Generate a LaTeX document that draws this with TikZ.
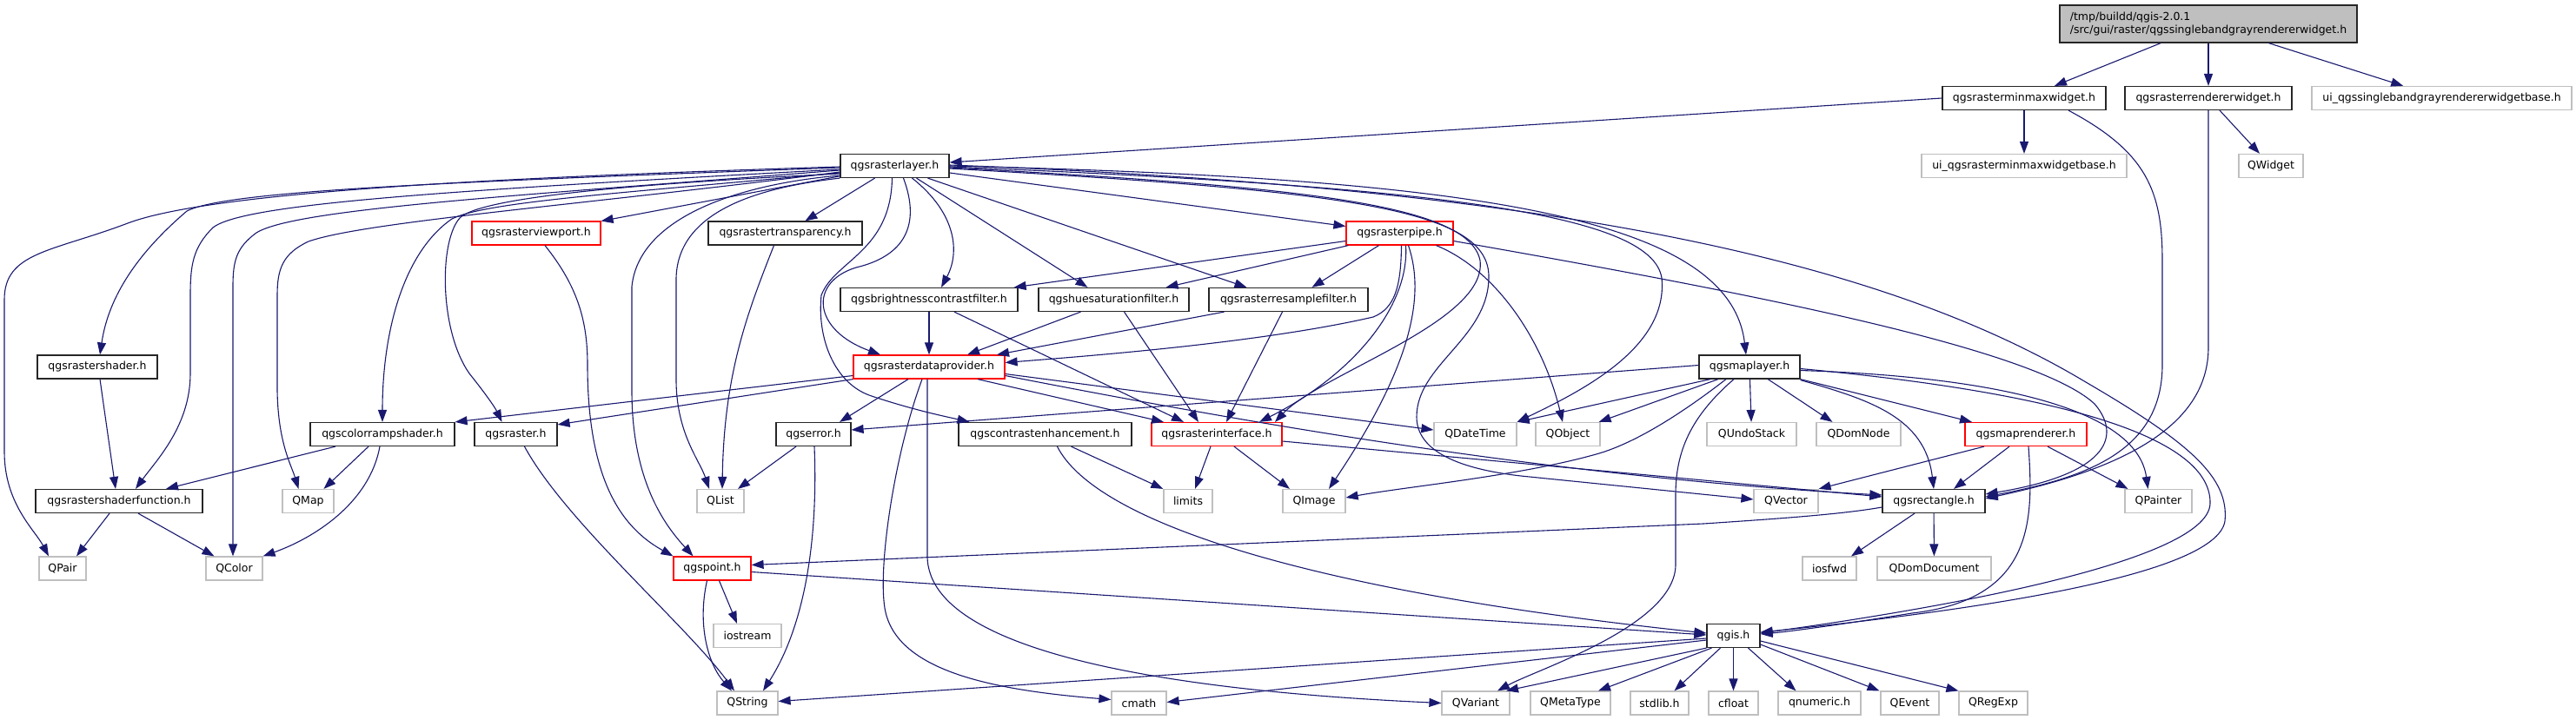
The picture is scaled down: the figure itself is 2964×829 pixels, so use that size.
\documentclass[tikz,border=0pt]{standalone}
\usepackage{fontspec}
\newfontfamily\dvs{DejaVu Sans}
\usetikzlibrary{arrows.meta}
\definecolor{eb}{RGB}{25,25,112}
\tikzset{
 base/.style={rectangle, line width=1.2pt, fill=white, minimum height=27pt, inner sep=0pt, font=\dvs\fontsize{12.5}{15}\selectfont, text=black},
 nb/.style={base, draw=black!85},
 ng/.style={base, draw=black!25},
 nr/.style={base, draw=red},
 nt/.style={base, draw=black!85, fill=black!25, minimum height=43pt, align=left},
 edg/.style={draw=eb, line width=1.1pt, -{Triangle[length=14pt,width=10pt]}},
}
\begin{document}
\begin{tikzpicture}[x=1pt,y=-1pt]
\fill[white] (0,0) rectangle (2964,829);
\useasboundingbox (0,0) rectangle (2964,829);
% nodes
\node[nt, minimum width=342pt] (top) at (2541,27.5) {/tmp/buildd/qgis-2.0.1\\/src/gui/raster/qgssinglebandgrayrendererwidget.h};
\node[nb, minimum width=188pt] (minmax) at (2329,113) {qgsrasterminmaxwidget.h};
\node[nb, minimum width=192pt] (rendw) at (2541,113) {qgsrasterrendererwidget.h};
\node[ng, minimum width=299pt] (uisb) at (2809.5,113) {ui\_qgssinglebandgrayrendererwidgetbase.h};
\node[ng, minimum width=236pt] (uimm) at (2329,191) {ui\_qgsrasterminmaxwidgetbase.h};
\node[ng, minimum width=74pt] (qwidget) at (2613,191) {QWidget};
\node[nb, minimum width=125pt] (layer) at (1029.5,191) {qgsrasterlayer.h};
\node[nr, minimum width=148pt] (viewport) at (617,268.5) {qgsrasterviewport.h};
\node[nb, minimum width=177pt] (transp) at (903.5,268.5) {qgsrastertransparency.h};
\node[nr, minimum width=123pt] (pipe) at (1610.5,268.5) {qgsrasterpipe.h};
\node[nb, minimum width=204pt] (brightness) at (1069,345) {qgsbrightnesscontrastfilter.h};
\node[nb, minimum width=173pt] (huesat) at (1281.5,345) {qgshuesaturationfilter.h};
\node[nb, minimum width=183pt] (resample) at (1482.5,345) {qgsrasterresamplefilter.h};
\node[nb, minimum width=138pt] (shader) at (112,422.5) {qgsrastershader.h};
\node[nr, minimum width=174pt] (dataprov) at (1069,422.5) {qgsrasterdataprovider.h};
\node[nb, minimum width=116pt] (maplayer) at (2013,422.5) {qgsmaplayer.h};
\node[nb, minimum width=166pt] (colorramp) at (440,500) {qgscolorrampshader.h};
\node[nb, minimum width=95pt] (raster) at (593.5,500) {qgsraster.h};
\node[nb, minimum width=86pt] (error) at (936,500) {qgserror.h};
\node[nb, minimum width=199pt] (contrast) at (1202.5,500) {qgscontrastenhancement.h};
\node[nr, minimum width=150pt] (interface) at (1400,500) {qgsrasterinterface.h};
\node[ng, minimum width=95pt] (qdatetime) at (1697.5,500) {QDateTime};
\node[ng, minimum width=74pt] (qobject) at (1804,500) {QObject};
\node[ng, minimum width=103pt] (qundostack) at (2015.5,500) {QUndoStack};
\node[ng, minimum width=97pt] (qdomnode) at (2138.5,500) {QDomNode};
\node[nr, minimum width=140pt] (maprenderer) at (2331,500) {qgsmaprenderer.h};
\node[nb, minimum width=192pt] (shaderfunc) at (137,577) {qgsrastershaderfunction.h};
\node[ng, minimum width=59pt] (qmap) at (354.5,577) {QMap};
\node[ng, minimum width=54pt] (qlist) at (829,577) {QList};
\node[ng, minimum width=56pt] (limits) at (1367,577) {limits};
\node[ng, minimum width=72pt] (qimage) at (1512,577) {QImage};
\node[ng, minimum width=74pt] (qvector) at (2055,577) {QVector};
\node[nb, minimum width=118pt] (rect) at (2225,577) {qgsrectangle.h};
\node[ng, minimum width=77pt] (qpainter) at (2483.5,577) {QPainter};
\node[ng, minimum width=54pt] (qpair) at (72,654.5) {QPair};
\node[ng, minimum width=65pt] (qcolor) at (269.5,654.5) {QColor};
\node[nr, minimum width=89pt] (point) at (819.5,654.5) {qgspoint.h};
\node[ng, minimum width=62pt] (iosfwd) at (2105,654.5) {iosfwd};
\node[ng, minimum width=131pt] (qdomdoc) at (2225.5,654.5) {QDomDocument};
\node[ng, minimum width=78pt] (iostream) at (860,732) {iostream};
\node[nb, minimum width=61pt] (qgis) at (1994.5,732) {qgis.h};
\node[ng, minimum width=70pt] (qstring) at (860,809.5) {QString};
\node[ng, minimum width=63pt] (cmath) at (1310.5,809.5) {cmath};
\node[ng, minimum width=78pt] (qvariant) at (1698,809.5) {QVariant};
\node[ng, minimum width=92pt] (qmetatype) at (1807,809.5) {QMetaType};
\node[ng, minimum width=67pt] (stdlib) at (1909.5,809.5) {stdlib.h};
\node[ng, minimum width=57pt] (cfloat) at (1994.5,809.5) {cfloat};
\node[ng, minimum width=95pt] (qnumeric) at (2093.5,809.5) {qnumeric.h};
\node[ng, minimum width=67pt] (qevent) at (2197.5,809.5) {QEvent};
\node[ng, minimum width=79pt] (qregexp) at (2293.5,809.5) {QRegExp};
% edges: top
\draw[edg] (top) -- (minmax);
\draw[edg] (top) -- (rendw);
\draw[edg] (top) -- (uisb);
\draw[edg] (minmax.west) -- ([yshift=4pt]layer.east);
\draw[edg] (minmax) -- (uimm);
\draw[edg] ([xshift=51pt]minmax.south) .. controls (2470,175) and (2488,220) .. (2488,300) -- (2488,420) .. controls (2488,520) and (2400,550) .. ([yshift=5pt]rect.east);
\draw[edg] (rendw) -- (qwidget);
\draw[edg] (rendw.south) -- (2541,400) .. controls (2541,500) and (2420,545) .. ([yshift=3pt]rect.east);
% layer, left side
\draw[edg] ([yshift=-1pt]layer.west) .. controls (550,205) and (240,222) .. (147,257) .. controls (60,290) and (5,290) .. (5,345) -- (5,520) .. controls (5,580) and (40,610) .. ([xshift=-16pt]qpair.north);
\draw[edg] ([yshift=-2pt]layer.west) .. controls (500,210) and (260,220) .. (215,243) .. controls (160,290) and (125,340) .. ([xshift=3pt]shader.north);
\draw[edg] ([yshift=-4pt]layer.west) .. controls (500,220) and (280,235) .. (245,262) .. controls (222,285) and (219,305) .. (219,340) -- (219,430) .. controls (219,490) and (180,530) .. ([xshift=19pt]shaderfunc.north);
\draw[edg] ([yshift=-5pt]layer.west) .. controls (600,225) and (340,240) .. (295,268) .. controls (272,285) and (268,300) .. (268,330) -- ([xshift=-1.5pt]qcolor.north);
\draw[edg] ([yshift=-7pt]layer.west) .. controls (680,235) and (420,255) .. (355,278) .. controls (325,292) and (319,310) .. (319,340) -- (319,450) .. controls (320,510) and (335,535) .. ([xshift=-11pt]qmap.north);
\draw[edg] ([yshift=-8pt]layer.west) .. controls (720,222) and (560,232) .. (520,252) .. controls (465,290) and (440,380) .. (colorramp.north);
\draw[edg] ([yshift=-9pt]layer.west) .. controls (760,210) and (560,225) .. (530,250) .. controls (505,275) and (505,380) .. (540,430) .. controls (560,455) and (570,470) .. ([xshift=-16pt]raster.north);
\draw[edg] (layer) -- (viewport);
\draw[edg] (layer) -- (transp);
\draw[edg] ([yshift=-11pt]layer.west) .. controls (850,212) and (735,250) .. (727,330) -- (727,450) .. controls (727,560) and (770,610) .. ([xshift=-22pt]point.north);
\draw[edg] (layer.south west) .. controls (880,215) and (780,240) .. (778,320) -- (778,440) .. controls (779,500) and (805,530) .. ([xshift=-13pt]qlist.north);
\draw[edg] ([xshift=10pt]layer.south) .. controls (1060,260) and (1040,295) .. (985,308) .. controls (930,325) and (935,380) .. ([xshift=-56pt]dataprov.north);
\draw[edg] ([xshift=-3pt]layer.south) .. controls (1025,290) and (960,300) .. (945,340) .. controls (940,390) and (960,440) .. (1000,455) .. controls (1050,472) and (1090,480) .. ([xshift=-87pt]contrast.north);
\draw[edg] ([xshift=20pt]layer.south) .. controls (1100,245) and (1105,290) .. ([xshift=14pt]brightness.north);
\draw[edg] ([xshift=25pt]layer.south) -- ([xshift=-30pt]huesat.north);
\draw[edg] ([xshift=38pt]layer.south) -- ([xshift=-48pt]resample.north);
\draw[edg] ([yshift=-8pt]layer.east) -- ([yshift=8pt]pipe.west);
% layer, right side
\draw[edg] ([yshift=1pt]layer.east) .. controls (1750,215) and (2150,290) .. (2400,440) .. controls (2520,510) and (2565,550) .. (2560,600) .. controls (2550,665) and (2250,705) .. ([yshift=4pt]qgis.east);
\draw[edg] (layer.east) .. controls (1700,205) and (1990,250) .. ([xshift=-4pt]maplayer.north);
\draw[edg] ([yshift=-1pt]layer.east) .. controls (1650,215) and (1900,245) .. (1912,320) .. controls (1920,400) and (1820,450) .. (qdatetime.north east);
\draw[edg] ([yshift=-2pt]layer.east) .. controls (1500,215) and (1690,235) .. (1703,300) .. controls (1712,370) and (1520,430) .. ([xshift=67pt]interface.north);
\draw[edg] ([yshift=-3pt]layer.east) .. controls (1550,220) and (1715,240) .. (1713,320) .. controls (1712,390) and (1630,420) .. (1630,480) .. controls (1630,520) and (1680,540) .. (1750,548) -- ([yshift=2pt]qvector.west);
% viewport, transparency
\draw[edg] ([xshift=10pt]viewport.south) .. controls (665,330) and (676,370) .. (676,420) .. controls (676,560) and (720,610) .. ([xshift=-45pt]point.north);
\draw[edg] ([xshift=-13pt]transp.south) .. controls (860,360) and (833,430) .. ([xshift=2pt]qlist.north);
% pipe
\draw[edg] ([yshift=-9pt]pipe.west) -- ([xshift=-5pt]brightness.north east);
\draw[edg] ([xshift=3pt]pipe.south west) -- ([xshift=60pt]huesat.north);
\draw[edg] ([xshift=-24pt]pipe.south) -- ([xshift=27pt]resample.north);
\draw[edg] ([xshift=2pt]pipe.south) .. controls (1612,330) and (1605,355) .. (1580,365) .. controls (1450,395) and (1250,410) .. ([yshift=5pt]dataprov.east);
\draw[edg] ([xshift=7pt]pipe.south) .. controls (1622,350) and (1560,430) .. ([xshift=49pt]interface.north);
\draw[edg] ([xshift=10pt]pipe.south) .. controls (1640,340) and (1625,420) .. ([xshift=17pt]qimage.north);
\draw[edg] ([xshift=42pt]pipe.south) .. controls (1720,310) and (1775,390) .. ([xshift=-6pt]qobject.north);
\draw[edg] ([yshift=-9pt]pipe.east) .. controls (2000,335) and (2340,400) .. (2410,465) .. controls (2440,500) and (2430,545) .. ([yshift=8pt]rect.east);
% filters
\draw[edg] (brightness) -- (dataprov);
\draw[edg] ([xshift=29pt]brightness.south) -- ([xshift=-38pt]interface.north);
\draw[edg] ([xshift=-38pt]huesat.south) -- ([xshift=44pt]dataprov.north);
\draw[edg] ([xshift=12pt]huesat.south) -- ([xshift=-21pt]interface.north);
\draw[edg] ([xshift=-74pt]resample.south) -- ([xshift=78pt]dataprov.north);
\draw[edg] ([xshift=-7pt]resample.south) -- ([xshift=11pt]interface.north);
% shaders
\draw[edg] ([xshift=3pt]shader.south) -- ([xshift=-4pt]shaderfunc.north);
\draw[edg] ([xshift=-54pt]colorramp.south) -- ([xshift=54pt]shaderfunc.north);
\draw[edg] ([xshift=-16pt]colorramp.south) -- ([xshift=18pt]qmap.north);
\draw[edg] ([xshift=-3pt]colorramp.south) .. controls (425,580) and (360,620) .. (qcolor.north east);
\draw[edg] ([xshift=-11pt]shaderfunc.south) -- ([xshift=16pt]qpair.north);
\draw[edg] ([xshift=22pt]shaderfunc.south) -- ([xshift=-23pt]qcolor.north);
% data provider
\draw[edg] ([yshift=-10pt]dataprov.west) -- (colorramp.north east);
\draw[edg] (dataprov.south west) -- ([yshift=-3pt]raster.north east);
\draw[edg] ([xshift=-24pt]dataprov.south) -- ([xshift=30pt]error.north);
\draw[edg] ([xshift=56pt]dataprov.south) -- ([xshift=-61pt]interface.north);
\draw[edg] ([yshift=-8pt]dataprov.east) -- ([yshift=5pt]qdatetime.west);
\draw[edg] ([yshift=-10pt]dataprov.east) .. controls (1450,490) and (1800,550) .. ([yshift=7pt]rect.west);
\draw[edg] ([xshift=-8pt]dataprov.south) .. controls (1030,520) and (1010,650) .. (1018,700) .. controls (1030,775) and (1150,795) .. ([yshift=4pt]cmath.west);
\draw[edg] ([xshift=-2pt]dataprov.south) -- (1067,640) .. controls (1067,770) and (1450,800) .. (qvariant.west);
% interface, contrast
\draw[edg] ([yshift=-8pt]interface.east) -- ([yshift=5pt]rect.west);
\draw[edg] ([xshift=-7pt]interface.south) -- ([xshift=8pt]limits.north);
\draw[edg] ([xshift=20pt]interface.south) -- ([xshift=-28pt]qimage.north);
\draw[edg] ([xshift=30pt]contrast.south) -- (limits.north west);
\draw[edg] ([xshift=14pt]contrast.south) .. controls (1260,600) and (1500,680) .. ([yshift=3pt]qgis.west);
% map layer
\draw[edg] ([yshift=2pt]maplayer.west) -- ([yshift=5pt]error.east);
\draw[edg] ([xshift=-45pt]maplayer.south) -- (qdatetime.north east);
\draw[edg] ([xshift=-36pt]maplayer.south) -- ([xshift=-2pt]qobject.north east);
\draw[edg] ([xshift=-27pt]maplayer.south) .. controls (1930,480) and (1880,510) .. (1840,522) .. controls (1750,548) and (1620,560) .. ([yshift=4pt]qimage.east);
\draw[edg] ([xshift=-18pt]maplayer.south) .. controls (1945,480) and (1928,520) .. (1928,570) -- (1928,650) .. controls (1928,720) and (1770,770) .. ([xshift=25pt]qvariant.north);
\draw[edg] (maplayer) -- (qundostack);
\draw[edg] (maplayer) -- ([xshift=-30pt]qdomnode.north);
\draw[edg] (maplayer.south east) -- ([xshift=-62pt]maprenderer.north);
\draw[edg] ([yshift=-1pt]maplayer.south east) .. controls (2150,460) and (2215,480) .. (rect.north);
\draw[edg] ([yshift=-4pt]maplayer.east) .. controls (2330,435) and (2460,480) .. ([xshift=-12pt]qpainter.north);
\draw[edg] ([yshift=-2pt]maplayer.east) .. controls (2400,455) and (2545,510) .. (2543,580) .. controls (2540,650) and (2200,705) .. ([yshift=3pt]qgis.east);
% map renderer
\draw[edg] ([xshift=-48pt]maprenderer.south) -- (qvector.north east);
\draw[edg] ([xshift=-19pt]maprenderer.south) -- ([xshift=23pt]rect.north);
\draw[edg] ([xshift=25pt]maprenderer.south) -- ([xshift=-35pt]qpainter.north);
\draw[edg] ([xshift=3pt]maprenderer.south) .. controls (2340,600) and (2340,690) .. (2200,706) .. controls (2100,722) and (2050,728) .. ([yshift=2pt]qgis.east);
% rectangle
\draw[edg] ([xshift=-22pt]rect.south) -- ([xshift=25pt]iosfwd.north);
\draw[edg] (rect) -- (qdomdoc);
\draw[edg] ([yshift=-7pt]rect.west) .. controls (2120,592) and (2050,597) .. (1960,603) -- ([yshift=4pt]point.east);
% point, raster, error
\draw[edg] ([yshift=-4pt]point.east) -- ([yshift=1pt]qgis.west);
\draw[edg] ([xshift=8pt]point.south) -- ([xshift=-12pt]iostream.north);
\draw[edg] ([xshift=-6pt]point.south) .. controls (802,720) and (815,765) .. ([xshift=-18pt]qstring.north);
\draw[edg] ([xshift=10pt]raster.south) .. controls (650,600) and (790,720) .. ([xshift=-15pt]qstring.north);
\draw[edg] ([xshift=-20pt]error.south) -- ([xshift=20pt]qlist.north);
\draw[edg] ([xshift=1pt]error.south) .. controls (942,640) and (920,730) .. ([xshift=18pt]qstring.north);
% qgis.h
\draw[edg] ([yshift=-3pt]qgis.west) -- ([yshift=2pt]qstring.east);
\draw[edg] ([yshift=-5pt]qgis.west) -- ([yshift=1pt]cmath.east);
\draw[edg] (qgis.south west) -- ([xshift=35pt]qvariant.north);
\draw[edg] ([xshift=-25pt]qgis.south) -- ([xshift=32pt]qmetatype.north);
\draw[edg] ([xshift=-15pt]qgis.south) -- ([xshift=17pt]stdlib.north);
\draw[edg] (qgis) -- (cfloat);
\draw[edg] ([xshift=17pt]qgis.south) -- ([xshift=-27pt]qnumeric.north);
\draw[edg] ([yshift=-10pt]qgis.east) -- ([xshift=-35pt]qevent.north);
\draw[edg] ([yshift=-6pt]qgis.east) -- (qregexp.north west);
\end{tikzpicture}
\end{document}
